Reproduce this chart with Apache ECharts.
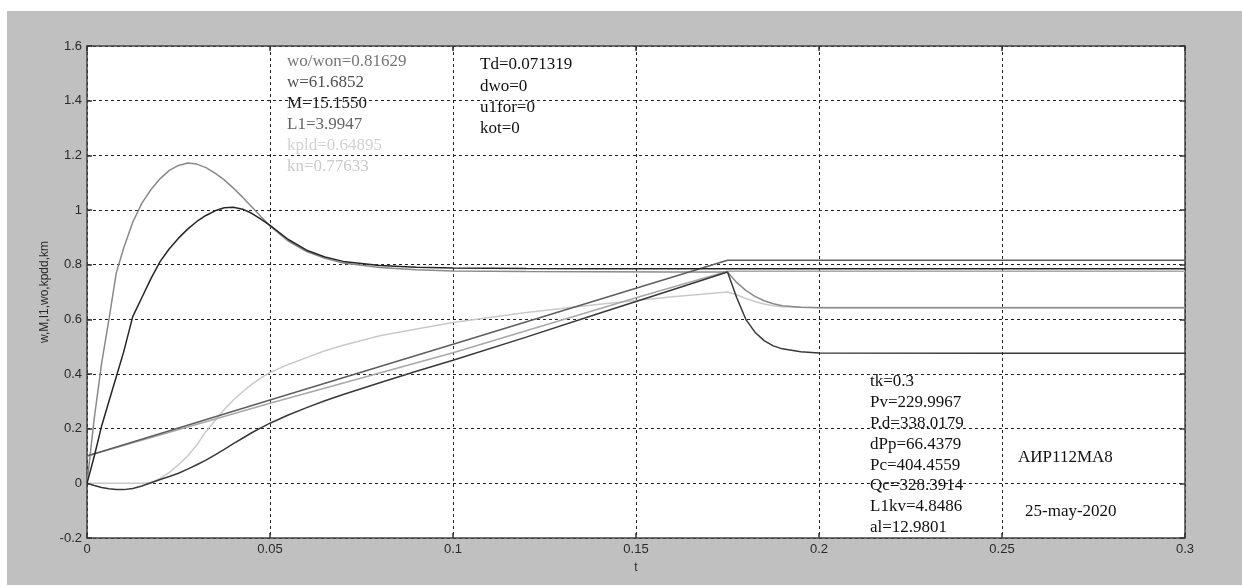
<!DOCTYPE html>
<html>
<head>
<meta charset="utf-8">
<script src="https://cdn.jsdelivr.net/npm/echarts@6/dist/echarts.min.js"></script>
<style>
  body { margin: 0; background: #fff; }
  #frame { position: absolute; left: 7px; top: 11px; width: 1235px; height: 574px; background: #c0c0c0; }
  #main { position: absolute; left: 0; top: 0; width: 1242px; height: 587px; }
</style>
</head>
<body>
<div id="frame"></div>
<div id="main"></div>
<script>
// time grid for the transient curves
const tCurve = [0, 0.002, 0.004, 0.006, 0.008, 0.01, 0.0125, 0.015, 0.0175, 0.02,
  0.0225, 0.025, 0.0275, 0.03, 0.0325, 0.035, 0.0375, 0.04, 0.0425, 0.045,
  0.0475, 0.05, 0.055, 0.06, 0.065, 0.07, 0.08, 0.09, 0.1, 0.12,
  0.14, 0.16, 0.175, 0.1775, 0.18, 0.1825, 0.185, 0.1875, 0.19, 0.195,
  0.2, 0.25, 0.3];

// L1 (gray, high peak)
const peakHigh = [0, 0.24, 0.44, 0.6, 0.77, 0.86, 0.955, 1.025, 1.075, 1.115,
  1.145, 1.163, 1.172, 1.168, 1.155, 1.135, 1.11, 1.08, 1.047, 1.012,
  0.976, 0.942, 0.886, 0.848, 0.823, 0.806, 0.79, 0.781, 0.777, 0.775,
  0.774, 0.773, 0.773, 0.735, 0.706, 0.684, 0.668, 0.657, 0.65, 0.644,
  0.642, 0.642, 0.642];

// M (dark, lower peak)
const peakLow = [0, 0.1, 0.21, 0.3, 0.39, 0.48, 0.61, 0.68, 0.75, 0.812,
  0.858, 0.897, 0.93, 0.958, 0.98, 0.997, 1.008, 1.01, 1.003, 0.988,
  0.967, 0.944, 0.892, 0.853, 0.828, 0.812, 0.797, 0.791, 0.788, 0.786,
  0.785, 0.785, 0.785, 0.785, 0.785, 0.785, 0.785, 0.785, 0.785, 0.785,
  0.785, 0.785, 0.785];

// kpld (light gray, s-curve)
const kpldCurve = [0, 0, 0, 0, 0, 0, 0, 0, 0.003, 0.018,
  0.04, 0.068, 0.1, 0.14, 0.19, 0.23, 0.27, 0.305, 0.335, 0.362,
  0.386, 0.405, 0.435, 0.46, 0.485, 0.505, 0.54, 0.565, 0.588, 0.625,
  0.655, 0.683, 0.7, 0.69, 0.676, 0.665, 0.656, 0.65, 0.646, 0.644,
  0.643, 0.643, 0.643];

// w (dark, small dip then ramp)
const dipCurve = [0, -0.008, -0.015, -0.02, -0.023, -0.023, -0.019, -0.01, 0.002, 0.014,
  0.025, 0.037, 0.052, 0.068, 0.085, 0.104, 0.124, 0.145, 0.165, 0.185,
  0.203, 0.22, 0.25, 0.277, 0.302, 0.325, 0.368, 0.41, 0.45, 0.535,
  0.622, 0.708, 0.773, 0.68, 0.6, 0.553, 0.522, 0.503, 0.492, 0.481,
  0.477, 0.476, 0.476];

// ramps
const tRamp = [0, 0.05, 0.1, 0.15, 0.175, 0.3];
const woRamp = [0.1, 0.305, 0.509, 0.714, 0.816, 0.816];
const knRamp = [0.1, 0.293, 0.478, 0.679, 0.776, 0.776];

const leftNotes = [
  ['wo/won=0.81629', '#767676'],
  ['w=61.6852', '#505050'],
  ['M=15.1550', '#1c1c1c'],
  ['L1=3.9947', '#646464'],
  ['kpld=0.64895', '#d2d2d2'],
  ['kn=0.77633', '#cacaca']
];
const midNotes = ['Td=0.071319', 'dwo=0', 'u1for=0', 'kot=0'];
const lowNotes = ['tk=0.3', 'Pv=229.9967', 'P.d=338.0179', 'dPp=66.4379',
  'Pc=404.4559', 'Qc=328.3914', 'L1kv=4.8486', 'al=12.9801'];

const pairs = (xs, ys) => xs.map((x, i) => [x, ys[i]]);

const line = (name, xs, ys, color, w) => ({
  name, type: 'line', data: pairs(xs, ys),
  showSymbol: false, smooth: false, silent: true,
  lineStyle: {color, width: w || 1.5}
});

const serif = '17px "Liberation Serif", "Times New Roman", serif';
const note = (text, x, y, fill) => ({
  type: 'text', x, y, silent: true,
  style: {text, font: serif, fill, align: 'left', verticalAlign: 'middle',
    textAlign: 'left', textVerticalAlign: 'middle'}
});

const graphics = [];
leftNotes.forEach((n, i) => graphics.push(note(n[0], 287, 62 + i * 21, n[1])));
midNotes.forEach((s, i) => graphics.push(note(s, 480, 65 + i * 21.3, '#111')));
lowNotes.forEach((s, i) => graphics.push(note(s, 870, 382 + i * 20.8, '#111')));
graphics.push(note('АИР112МА8', 1018, 458, '#111'));
graphics.push(note('25-may-2020', 1025, 512, '#111'));

const axisFont = {fontFamily: '"Liberation Sans", Arial, sans-serif', fontSize: 13, color: '#2a2a2a'};
const nameFont = {fontFamily: '"Liberation Sans", Arial, sans-serif', fontSize: 12, color: '#2a2a2a'};
const grid = {lineStyle: {color: '#222', type: [3, 3], width: 1}};
const tickIn = {show: true, inside: true, length: 5, lineStyle: {color: '#333', width: 1.5}};
const edge = {show: true, onZero: false, lineStyle: {color: '#444', width: 1.5}};

const chart = echarts.init(document.getElementById('main'));
chart.setOption({
  animation: false,
  backgroundColor: 'transparent',
  grid: {left: 87, top: 46, width: 1098, height: 492, containLabel: false,
    outerBoundsMode: 'none',
    show: true, backgroundColor: '#fff', borderWidth: 0},
  xAxis: [{
    type: 'value', min: 0, max: 0.3, interval: 0.05, position: 'bottom',
    name: 't', nameLocation: 'middle', nameGap: 24, nameMoveOverlap: false,
    nameTextStyle: nameFont,
    axisLabel: Object.assign({margin: 5}, axisFont),
    axisLine: edge, axisTick: tickIn, splitLine: Object.assign({show: true}, grid)
  }, {
    type: 'value', min: 0, max: 0.3, interval: 0.05, position: 'top',
    axisLabel: {show: false}, axisLine: edge, axisTick: tickIn, splitLine: {show: false}
  }],
  yAxis: [{
    type: 'value', min: -0.2, max: 1.6, interval: 0.2, position: 'left',
    name: 'w,M,I1,wo,kpdd,km', nameLocation: 'middle', nameGap: 36, nameMoveOverlap: false,
    nameTextStyle: nameFont,
    axisLabel: Object.assign({margin: 5}, axisFont),
    axisLine: edge, axisTick: tickIn, splitLine: Object.assign({show: true}, grid)
  }, {
    type: 'value', min: -0.2, max: 1.6, interval: 0.2, position: 'right',
    axisLabel: {show: false}, axisLine: edge, axisTick: tickIn, splitLine: {show: false}
  }],
  series: [
    line('kpld', tCurve, kpldCurve, '#c9c9c9'),
    line('kn', tRamp, knRamp, '#a8a8a8'),
    line('L1', tCurve, peakHigh, '#8a8a8a'),
    line('wo/won', tRamp, woRamp, '#5e5e5e'),
    line('w', tCurve, dipCurve, '#383838'),
    line('M', tCurve, peakLow, '#262626')
  ],
  graphic: graphics
});
</script>
</body>
</html>
